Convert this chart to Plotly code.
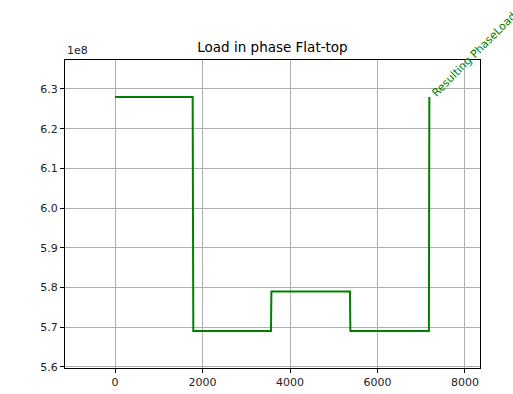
import plotly.graph_objects as go

# Data
time_s = [0, 1775, 1790, 3565, 3575, 5370, 5380, 7175, 7185]
load = [6.28e8, 6.28e8, 5.69e8, 5.69e8, 5.79e8, 5.79e8, 5.69e8, 5.69e8, 6.28e8]

x_ticks = [0, 2000, 4000, 6000, 8000]
x_tick_labels = ["0", "2000", "4000", "6000", "8000"]
y_ticks = [5.6e8, 5.7e8, 5.8e8, 5.9e8, 6.0e8, 6.1e8, 6.2e8, 6.3e8]
y_tick_labels = ["5.6", "5.7", "5.8", "5.9", "6.0", "6.1", "6.2", "6.3"]

title_text = "Load in phase Flat-top"
annot_text = "Resulting PhaseLoad"
color = "#008000"

fig = go.Figure()
fig.add_trace(go.Scatter(x=time_s, y=load, mode="lines",
                         line=dict(color=color, width=2), showlegend=False))

axis_common = dict(showline=True, linecolor="black", linewidth=1, mirror=True,
                   ticks="outside", ticklen=4, tickcolor="black",
                   showgrid=True, gridcolor="#b0b0b0", gridwidth=1,
                   zeroline=False, automargin=False,
                   tickfont=dict(family="DejaVu Sans", size=11, color="#222"))

fig.update_xaxes(range=[-1143, 8343], tickvals=x_ticks, ticktext=x_tick_labels, **axis_common)
fig.update_yaxes(range=[5.597e8, 6.373e8], tickvals=y_ticks, ticktext=y_tick_labels, **axis_common)

fig.add_annotation(x=time_s[-1], y=load[-1], text=annot_text, showarrow=False,
                   textangle=-45, xanchor="left", yanchor="bottom",
                   font=dict(family="DejaVu Sans", size=11, color=color),
                   xshift=-3, yshift=-5)
fig.add_annotation(x=0, y=1, xref="paper", yref="paper", text="1e8", showarrow=False,
                   xanchor="left", yanchor="bottom", yshift=1,
                   font=dict(family="DejaVu Sans", size=11, color="#222"))

fig.update_layout(
    width=513, height=394,
    margin=dict(l=65, r=33, t=60, b=26),
    paper_bgcolor="white", plot_bgcolor="white",
    title=dict(text=title_text, x=0.5, xref="paper", xanchor="center",
               y=1 - 47 / 394, yref="container", yanchor="middle",
               font=dict(family="DejaVu Sans", size=13.5, color="black")),
)

fig.write_html("out.html")
